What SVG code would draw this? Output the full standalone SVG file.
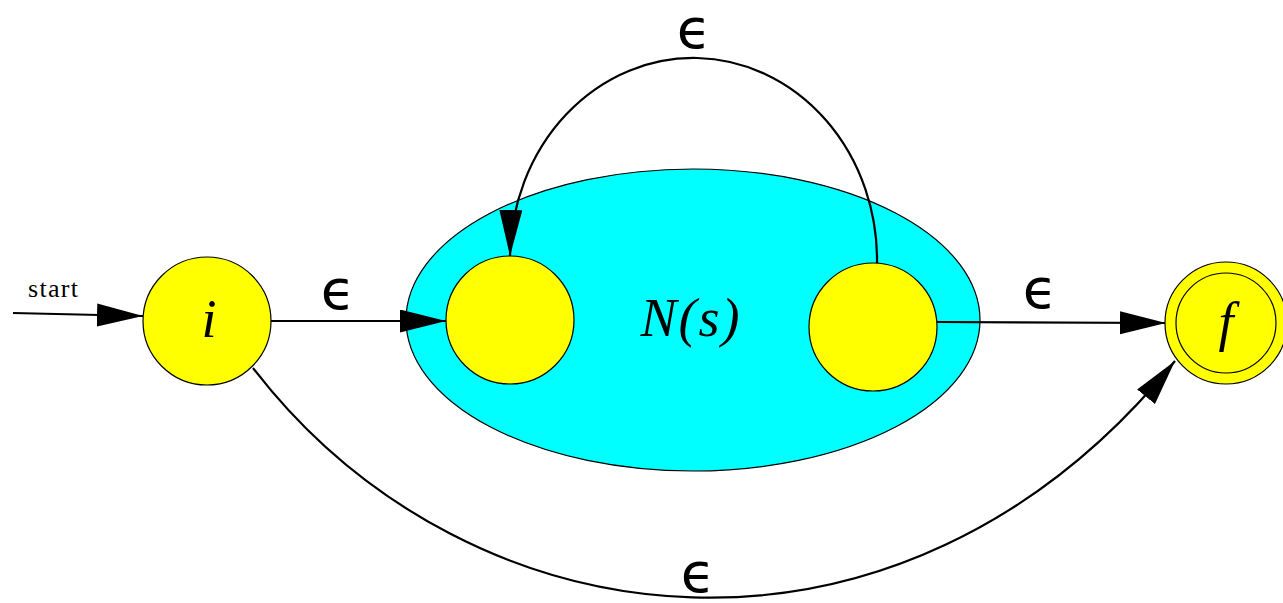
<svg xmlns="http://www.w3.org/2000/svg" width="1283" height="603" viewBox="0 0 1283 603">
<style>
.state{fill:#ffff00;stroke:#000;stroke-width:1.2}
.edge{fill:none;stroke:#000;stroke-width:2.2}
.lbl{font-family:"DejaVu Sans",sans-serif;font-size:56px;fill:#000;text-anchor:middle}
.name{font-family:"Liberation Serif","DejaVu Serif",serif;font-style:italic;font-size:54px;fill:#000;text-anchor:middle}
</style>
<defs>
<marker id="ah" markerUnits="userSpaceOnUse" markerWidth="48" markerHeight="24" refX="46" refY="11.5" orient="auto" viewBox="0 0 48 24">
<path d="M0,0 L46,11.5 L0,23 z" fill="#000"/>
</marker>
</defs>
<rect width="1283" height="603" fill="#fff"/>
<g id="Ns">
<ellipse cx="693" cy="320" rx="287" ry="151" fill="#00ffff" stroke="#000" stroke-width="1.2"/>
<text class="name" x="691" y="336" letter-spacing="2">N(s)</text>
</g>
<g id="connectors">
<path class="edge" d="M13,313 L143,316" marker-end="url(#ah)"/>
<path class="edge" d="M271,321 L446,321" marker-end="url(#ah)"/>
<path class="edge" d="M877,264 A183.5 202 0 0 0 510,256" marker-end="url(#ah)"/>
<path class="edge" d="M937,322 L1166,323" marker-end="url(#ah)"/>
<path class="edge" d="M253,368 C470,650 900,700 1175,361" marker-end="url(#ah)"/>
<text x="28" y="297" font-family="Liberation Serif, serif" font-size="26" textLength="50">start</text>
<text class="lbl" x="338" y="309">ϵ</text>
<text class="lbl" x="694" y="48">ϵ</text>
<text class="lbl" x="1040" y="308">ϵ</text>
<text class="lbl" x="698" y="592">ϵ</text>
</g>
<g id="i">
<circle class="state" cx="207" cy="321" r="64"/>
<text class="name" x="209" y="337">i</text>
</g>
<g id="n1">
<circle class="state" cx="510" cy="320" r="64"/>
</g>
<g id="n2">
<circle class="state" cx="873" cy="327" r="64"/>
</g>
<g id="f">
<circle class="state" cx="1226" cy="323" r="61"/>
<circle fill="none" stroke="#000" stroke-width="1.2" cx="1226" cy="323" r="50"/>
<text class="name" x="1226" y="340">f</text>
</g>
</svg>
